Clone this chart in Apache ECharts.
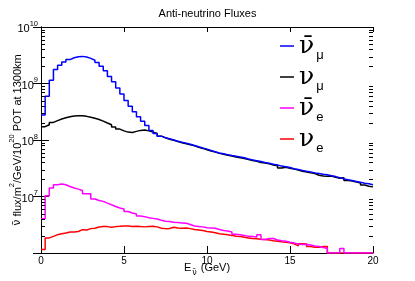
<!DOCTYPE html>
<html>
<head>
<meta charset="utf-8">
<script src="https://cdn.jsdelivr.net/npm/echarts@6/dist/echarts.min.js"></script>
<style>html,body{margin:0;padding:0;background:#fff}#c{width:415px;height:281px}</style>
</head>
<body>
<div id="c"></div>
<script>
// Bin width 0.25 GeV, 80 bins from 0 to 20 GeV
const binWidth = 0.25;
const nBins = 80;
const xTicks = [0, 5, 10, 15, 20];
const yTickLabels = ['10^7', '10^8', '10^9', '10^10'];

// anti-nu_mu (blue)
const antiNumu = [
  2.76e8, 5.97e8, 1.14e9, 1.77e9, 2.10e9, 2.41e9, 2.65e9, 2.85e9, 2.98e9, 3.02e9,
  2.95e9, 2.78e9, 2.58e9, 2.35e9, 2.03e9, 1.68e9, 1.33e9, 1.07e9, 8.3e8, 6.5e8,
  5.0e8, 3.95e8, 3.15e8, 2.58e8, 2.15e8, 1.8e8, 1.48e8, 1.3e8, 1.17e8, 1.1e8,
  1.05e8, 1.0e8, 9.5e7, 9.1e7, 8.8e7, 8.4e7, 8.0e7, 7.6e7, 7.2e7, 6.9e7,
  6.5e7, 6.2e7, 5.9e7, 5.7e7, 5.5e7, 5.3e7, 5.15e7, 5.0e7, 4.85e7, 4.6e7,
  4.45e7, 4.3e7, 4.15e7, 4.0e7, 3.88e7, 3.72e7, 3.6e7, 3.45e7, 3.35e7, 3.25e7,
  3.1e7, 3.0e7, 2.9e7, 2.8e7, 2.72e7, 2.62e7, 2.55e7, 2.48e7, 2.42e7, 2.33e7,
  2.25e7, 2.15e7, 2.05e7, 1.98e7, 1.92e7, 1.85e7, 1.78e7, 1.72e7, 1.68e7, 1.62e7
];
// nu_mu (black)
const numu = [
  1.72e8, 1.86e8, 2.05e8, 2.2e8, 2.35e8, 2.48e8, 2.58e8, 2.66e8, 2.7e8, 2.68e8,
  2.62e8, 2.52e8, 2.42e8, 2.3e8, 2.16e8, 2.0e8, 1.86e8, 1.7e8, 1.56e8, 1.45e8,
  1.38e8, 1.36e8, 1.42e8, 1.48e8, 1.5e8, 1.45e8, 1.38e8, 1.3e8, 1.17e8, 1.09e8,
  1.03e8, 9.9e7, 9.4e7, 8.9e7, 8.6e7, 8.2e7, 7.9e7, 7.4e7, 7.1e7, 6.7e7,
  6.4e7, 6.1e7, 5.8e7, 5.6e7, 5.35e7, 5.2e7, 5.0e7, 4.85e7, 4.7e7, 4.5e7,
  4.35e7, 4.2e7, 4.0e7, 3.9e7, 3.78e7, 3.6e7, 3.5e7, 3.2e7, 3.3e7, 3.15e7,
  3.05e7, 2.95e7, 2.8e7, 2.72e7, 2.62e7, 2.55e7, 2.38e7, 2.3e7, 2.28e7, 2.3e7,
  2.2e7, 2.1e7, 2.15e7, 1.92e7, 1.88e7, 1.8e7, 1.74e7, 1.6e7, 1.52e7, 1.48e7
];
// anti-nu_e (magenta)
const antiNue = [
  4.04e6, 1.03e7, 1.41e7, 1.61e7, 1.67e7, 1.61e7, 1.5e7, 1.41e7, 1.35e7, 1.28e7,
  1.12e7, 1.12e7, 9.0e6, 8.5e6, 8.2e6, 7.65e6, 7.14e6, 6.67e6, 6.24e6, 6.0e6,
  5.44e6, 5.1e6, 4.9e6, 4.5e6, 4.4e6, 4.2e6, 4.1e6, 4.0e6, 3.8e6, 3.65e6,
  3.6e6, 3.5e6, 3.45e6, 3.4e6, 3.35e6, 3.2e6, 3.0e6, 2.95e6, 2.9e6, 2.8e6,
  2.78e6, 2.75e6, 2.6e6, 2.5e6, 2.45e6, 2.35e6, 2.15e6, 2.1e6, 2.05e6, 1.97e6,
  1.95e6, 1.92e6, 2.11e6, 1.73e6, 1.8e6, 1.8e6, 1.7e6, 1.65e6, 1.62e6, 1.55e6,
  1.5e6, 1.45e6, 1.42e6, 1.41e6, 1.38e6, 1.33e6, 1.31e6, 1.25e6, 1.2e6, 1.0e6,
  1.0e6, 1.0e6, 1.2e6, 1.0e6, 1.0e6, 1.0e6, 1.0e6, 1.0e6, 1.0e6, 1.0e6
];
// nu_e (red)
const nue = [
  1.15e6, 1.85e6, 1.97e6, 2.11e6, 2.2e6, 2.26e6, 2.36e6, 2.36e6, 2.4e6, 2.59e6,
  2.55e6, 2.7e6, 2.75e6, 2.89e6, 2.93e6, 2.93e6, 2.86e6, 2.93e6, 2.96e6, 3.0e6,
  3.0e6, 2.95e6, 2.97e6, 2.93e6, 2.9e6, 2.95e6, 2.98e6, 2.9e6, 2.75e6, 2.7e6,
  2.72e6, 2.85e6, 2.78e6, 2.75e6, 2.77e6, 2.7e6, 2.6e6, 2.55e6, 2.5e6, 2.4e6,
  2.35e6, 2.28e6, 2.2e6, 2.15e6, 2.1e6, 2.05e6, 1.98e6, 1.95e6, 1.9e6, 1.85e6,
  1.8e6, 1.78e6, 1.75e6, 1.73e6, 1.7e6, 1.65e6, 1.62e6, 1.58e6, 1.55e6, 1.52e6,
  1.45e6, 1.34e6, 1.46e6, 1.45e6, 1.3e6, 1.27e6, 1.27e6, 1.3e6, 1.3e6, 1.0e6,
  1.0e6, 1.0e6, 1.0e6, 1.0e6, 1.0e6, 1.0e6, 1.0e6, 1.0e6, 1.0e6, 1.0e6
];
const minorTickValues = [];
[1e6, 1e7, 1e8, 1e9].forEach(d => { for (let k = 2; k <= 9; k++) minorTickValues.push(d * k); });

function stepData(vals) {
  const out = vals.map((v, i) => [i * binWidth, v]);
  out.push([nBins * binWidth, vals[vals.length - 1]]);
  return out;
}

const legendRich = {
  nu: { fontFamily: 'DejaVu Serif', fontSize: 25, lineHeight: 24, verticalAlign: 'top', color: '#000' },
  sub: { fontFamily: 'Liberation Sans', fontSize: 13, lineHeight: 5, verticalAlign: 'top', color: '#000', padding: [15, 0, 0, 2] }
};
const legendText = {
  'anti_numu': '{nu|ν\u0304}{sub|μ}',
  'numu': '{nu|ν}{sub|μ}',
  'anti_nue': '{nu|ν\u0304}{sub|e}',
  'nue': '{nu|ν}{sub|e}'
};

function lineSeries(name, vals, color, z) {
  return {
    name: name, type: 'line', step: 'end', data: stepData(vals),
    symbol: 'none', showSymbol: false, z: z,
    lineStyle: { color: color, width: 1.5 }, itemStyle: { color: color },
    clip: true
  };
}

const chart = echarts.init(document.getElementById('c'), null, { renderer: 'canvas' });
chart.setOption({
  animation: false,
  backgroundColor: '#fff',
  textStyle: { fontFamily: 'Liberation Sans' },
  title: {
    text: 'Anti-neutrino Fluxes', left: 'center', top: 3,
    textStyle: { fontFamily: 'Liberation Sans', fontSize: 11, fontWeight: 'normal', color: '#000' }
  },
  legend: {
    data: ['anti_numu', 'numu', 'anti_nue', 'nue'],
    orient: 'vertical', left: 275, top: 29, itemGap: 3,
    icon: 'rect', itemWidth: 14, itemHeight: 1.5,
    selectedMode: false,
    formatter: n => legendText[n],
    textStyle: { rich: legendRich }
  },
  grid: { left: 41, right: 42, top: 27, bottom: 28, show: false, containLabel: false, outerBoundsMode: 'none' },
  xAxis: [{
    type: 'value', min: 0, max: 20, interval: 5, position: 'bottom',
    name: '{a|E}{sub|ν\u0304}{a| (GeV)}', nameLocation: 'middle', nameGap: 9, nameMoveOverlap: false,
    nameTextStyle: { rich: {
      a: { fontFamily: 'Liberation Sans', fontSize: 11, lineHeight: 15, verticalAlign: 'top', color: '#000' },
      sub: { fontFamily: 'DejaVu Sans', fontSize: 8, lineHeight: 8, verticalAlign: 'bottom', color: '#000', padding: [0, 1, 0, 1] }
    } },
    axisLine: { show: true, lineStyle: { color: '#000', width: 1 } },
    axisTick: { show: true, inside: true, length: 7, lineStyle: { color: '#000' } },
    axisLabel: { show: true, color: '#000', fontSize: 10, margin: 3, fontFamily: 'Liberation Sans' },
    splitLine: { show: false }
  }, {
    type: 'value', min: 0, max: 20, interval: 5, position: 'top',
    axisLine: { show: true, lineStyle: { color: '#000', width: 1 } },
    axisTick: { show: true, inside: true, length: 5, lineStyle: { color: '#000' } },
    axisLabel: { show: false }, splitLine: { show: false }
  }],
  yAxis: [{
    type: 'log', min: 1e6, max: 1e10, logBase: 10, position: 'left',
    name: '{n|ν\u0304}{a| flux/m}{s|2}{a|/GeV/10}{s|20}{a| POT at 1300km}',
    nameLocation: 'middle', nameGap: 18, nameRotate: 90, nameMoveOverlap: false,
    nameTextStyle: { rich: {
      n: { fontFamily: 'DejaVu Sans', fontSize: 11, lineHeight: 15, verticalAlign: 'bottom', color: '#000' },
      a: { fontFamily: 'Liberation Sans', fontSize: 11, lineHeight: 15, verticalAlign: 'bottom', color: '#000' },
      s: { fontFamily: 'Liberation Sans', fontSize: 7.5, lineHeight: 8, verticalAlign: 'top', color: '#000' }
    } },
    axisLine: { show: true, lineStyle: { color: '#000', width: 1 } },
    axisTick: { show: true, inside: true, length: 8, lineStyle: { color: '#000' } },
    axisLabel: {
      show: true, margin: 3,
      formatter: v => {
        const e = Math.round(Math.log10(v));
        const lbl = '10^' + e;
        if (yTickLabels.indexOf(lbl) < 0) return '';
        return '{b|10}{s|' + e + '}';
      },
      rich: {
        b: { fontFamily: 'Liberation Sans', fontSize: 11, lineHeight: 15, verticalAlign: 'bottom', color: '#000' },
        s: { fontFamily: 'Liberation Sans', fontSize: 7.5, lineHeight: 8, verticalAlign: 'top', color: '#000' }
      }
    },
    splitLine: { show: false }
  }, {
    type: 'log', min: 1e6, max: 1e10, logBase: 10, position: 'right',
    axisLine: { show: true, lineStyle: { color: '#000', width: 1 } },
    axisTick: { show: true, inside: true, length: 8, lineStyle: { color: '#000' } },
    axisLabel: { show: false }, splitLine: { show: false }
  }],
  series: [
    lineSeries('numu', numu, '#000000', 2),
    lineSeries('anti_numu', antiNumu, '#0000ff', 3),
    lineSeries('nue', nue, '#ff0000', 4),
    lineSeries('anti_nue', antiNue, '#ff00ff', 5),
    {
      type: 'custom', name: 'minorTicks', silent: true, z: 10, clip: false,
      xAxisIndex: 0, yAxisIndex: 0,
      data: minorTickValues.map(v => [0, v]),
      encode: { x: 0, y: 1 },
      renderItem: (params, api) => {
        const v = api.value(1);
        const pl = api.coord([0, v]);
        const pr = api.coord([20, v]);
        const y = Math.round(pl[1]) + 0.5;
        return { type: 'group', children: [
          { type: 'line', shape: { x1: pl[0], y1: y, x2: pl[0] + 4, y2: y }, style: { stroke: '#000', lineWidth: 1 } },
          { type: 'line', shape: { x1: pr[0] - 4, y1: y, x2: pr[0], y2: y }, style: { stroke: '#000', lineWidth: 1 } }
        ] };
      }
    }
  ]
});
</script>
</body>
</html>
